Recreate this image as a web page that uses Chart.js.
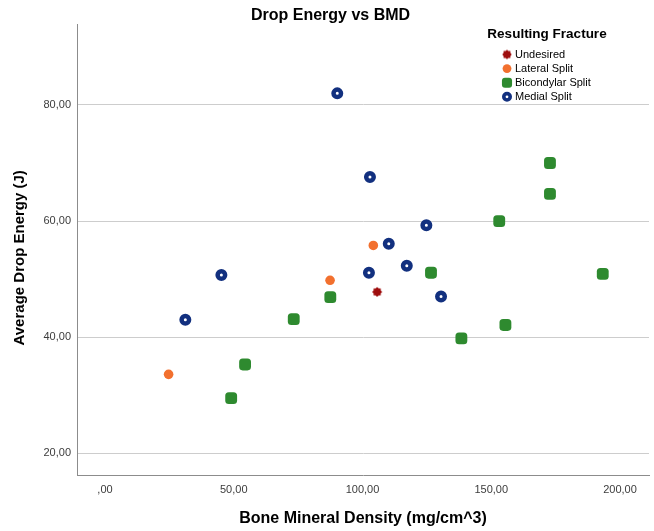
<!DOCTYPE html>
<html>
<head>
<meta charset="utf-8">
<script src="https://cdn.jsdelivr.net/npm/chart.js@4/dist/chart.umd.min.js"></script>
<style>
html,body{margin:0;padding:0;background:#ffffff;}
#wrap{width:654px;height:531px;}
</style>
</head>
<body>
<div id="wrap"><canvas id="c" width="654" height="531"></canvas></div>
<script>
// ---------- data ----------
const chartTitle = "Drop Energy vs BMD";
const xTitle = "Bone Mineral Density (mg/cm^3)";
const yTitle = "Average Drop Energy (J)";
const legendTitle = "Resulting Fracture";
const seriesNames = ["Undesired", "Lateral Split", "Bicondylar Split", "Medial Split"];

const undesiredX = [105.7];
const undesiredY = [47.8];

const lateralX = [104.2, 87.4, 24.7];
const lateralY = [55.8, 49.8, 33.6];

const bicondylarX = [172.8, 172.8, 153.1, 126.6, 193.3, 87.5, 73.3, 155.5, 138.4, 54.4, 49.0];
const bicondylarY = [70.0, 64.7, 60.0, 51.1, 50.9, 46.9, 43.1, 42.1, 39.8, 35.3, 29.5];

const medialX = [90.2, 102.9, 124.8, 110.2, 117.2, 102.5, 45.2, 130.5, 31.2];
const medialY = [82.0, 67.6, 59.3, 56.1, 52.3, 51.1, 50.7, 47.0, 43.0];

const xTickValues = [0, 50, 100, 150, 200];
const xTickLabels = [",00", "50,00", "100,00", "150,00", "200,00"];
const yTickValues = [20, 40, 60, 80];
const yTickLabels = ["20,00", "40,00", "60,00", "80,00"];

// ---------- styling ----------
const FONT = '"Liberation Sans", Arial, Helvetica, sans-serif';
const C_RED = '#9e0d0d', C_ORANGE = '#f2702e', C_GREEN = '#2e8a2f', C_NAVY = '#12307f';

function burst(r, n, color) {
  const s = Math.ceil(r * 2 + 2);
  const c = document.createElement('canvas');
  c.width = s; c.height = s;
  const g = c.getContext('2d');
  g.fillStyle = color;
  g.beginPath();
  for (let i = 0; i < 2 * n; i++) {
    const a = i * Math.PI / n;
    const rr = (i % 2) ? r * 0.78 : r;
    g.lineTo(s / 2 + rr * Math.cos(a), s / 2 + rr * Math.sin(a));
  }
  g.closePath();
  g.fill();
  return c;
}
const burstPlot = burst(5, 8, C_RED);
const burstLegend = burst(4.8, 8, C_RED);

const zip = (xs, ys) => xs.map((x, i) => ({x: x, y: ys[i]}));

const datasets = [
  {label: seriesNames[0], data: zip(undesiredX, undesiredY), pointStyle: burstPlot,
   backgroundColor: C_RED, borderColor: C_RED, pointRadius: 5, pointBorderWidth: 0,
   legendStyle: burstLegend, legendRadius: 4.8, legendBorder: 0},
  {label: seriesNames[1], data: zip(lateralX, lateralY), pointStyle: 'circle',
   backgroundColor: C_ORANGE, borderColor: C_ORANGE, pointRadius: 4.8, pointBorderWidth: 0,
   legendStyle: 'circle', legendRadius: 4.4, legendBorder: 0},
  {label: seriesNames[2], data: zip(bicondylarX, bicondylarY), pointStyle: 'rectRounded',
   backgroundColor: C_GREEN, borderColor: C_GREEN, pointRadius: 6.9, pointBorderWidth: 0,
   legendStyle: 'rectRounded', legendRadius: 5.9, legendBorder: 0},
  {label: seriesNames[3], data: zip(medialX, medialY), pointStyle: 'circle',
   backgroundColor: '#ffffff', borderColor: C_NAVY, pointRadius: 3.75, pointBorderWidth: 4.5,
   legendStyle: 'circle', legendRadius: 3.2, legendBorder: 3.6}
];

const legendPlugin = {
  id: 'fractureLegend',
  afterDraw(chart) {
    const ctx = chart.ctx;
    ctx.save();
    ctx.fillStyle = '#000';
    ctx.font = 'bold 13.5px ' + FONT;
    ctx.textAlign = 'center';
    ctx.textBaseline = 'middle';
    ctx.fillText(legendTitle, 547, 34);
    ctx.font = '11px ' + FONT;
    ctx.textAlign = 'left';
    chart.data.datasets.forEach((ds, i) => {
      const y = 54.5 + i * 14.1;
      ctx.fillStyle = ds.backgroundColor;
      ctx.strokeStyle = ds.borderColor;
      ctx.lineWidth = ds.legendBorder;
      Chart.helpers.drawPoint(ctx, {pointStyle: ds.legendStyle, rotation: 0,
        radius: ds.legendRadius, borderWidth: ds.legendBorder}, 507, y);
      ctx.fillStyle = '#000';
      ctx.fillText(ds.label, 515, y + 0.5);
    });
    ctx.restore();
  }
};

const noPad = s => { s.paddingLeft = 0; s.paddingRight = 0; s.paddingTop = 0; s.paddingBottom = 0; };

new Chart(document.getElementById('c'), {
  type: 'scatter',
  data: {datasets: datasets},
  plugins: [legendPlugin],
  options: {
    responsive: false,
    animation: false,
    devicePixelRatio: 1,
    layout: {autoPadding: false, padding: {left: 12, right: 5, top: 0, bottom: 0}},
    plugins: {
      legend: {display: false},
      tooltip: {enabled: false},
      title: {
        display: true, text: chartTitle, color: '#000',
        font: {family: FONT, size: 16, weight: 'bold', lineHeight: 1},
        padding: {top: 8, bottom: 0}
      }
    },
    scales: {
      x: {
        type: 'linear', min: -10.87, max: 211.26,
        afterBuildTicks: s => { s.ticks = xTickValues.map(v => ({value: v})); },
        afterFit: s => { s.height = 56; noPad(s); },
        grid: {display: false, drawTicks: false},
        border: {display: true, color: '#8c8c8c', width: 1},
        ticks: {
          padding: 8, color: '#3c3c3c', maxRotation: 0, autoSkip: false,
          font: {family: FONT, size: 11},
          callback: v => { const i = xTickValues.indexOf(v); return i >= 0 ? xTickLabels[i] : ''; }
        },
        title: {display: true, text: xTitle, color: '#000',
          font: {family: FONT, size: 16, weight: 'bold'}, padding: {top: 0, bottom: 2.4}}
      },
      y: {
        type: 'linear', min: 16.26, max: 93.95,
        afterBuildTicks: s => { s.ticks = yTickValues.map(v => ({value: v})); },
        afterFit: s => { s.width = 65; noPad(s); },
        grid: {display: true, color: '#cdcdcd', lineWidth: 1, drawTicks: false},
        border: {display: true, color: '#8c8c8c', width: 1},
        ticks: {
          padding: 6, color: '#3c3c3c', autoSkip: false,
          font: {family: FONT, size: 11},
          callback: v => { const i = yTickValues.indexOf(v); return i >= 0 ? yTickLabels[i] : ''; }
        },
        title: {display: true, text: yTitle + '    ', color: '#000',
          font: {family: FONT, size: 15, weight: 'bold', lineHeight: 1.1}, padding: {top: 0, bottom: 0}}
      }
    }
  }
});
</script>
</body>
</html>
